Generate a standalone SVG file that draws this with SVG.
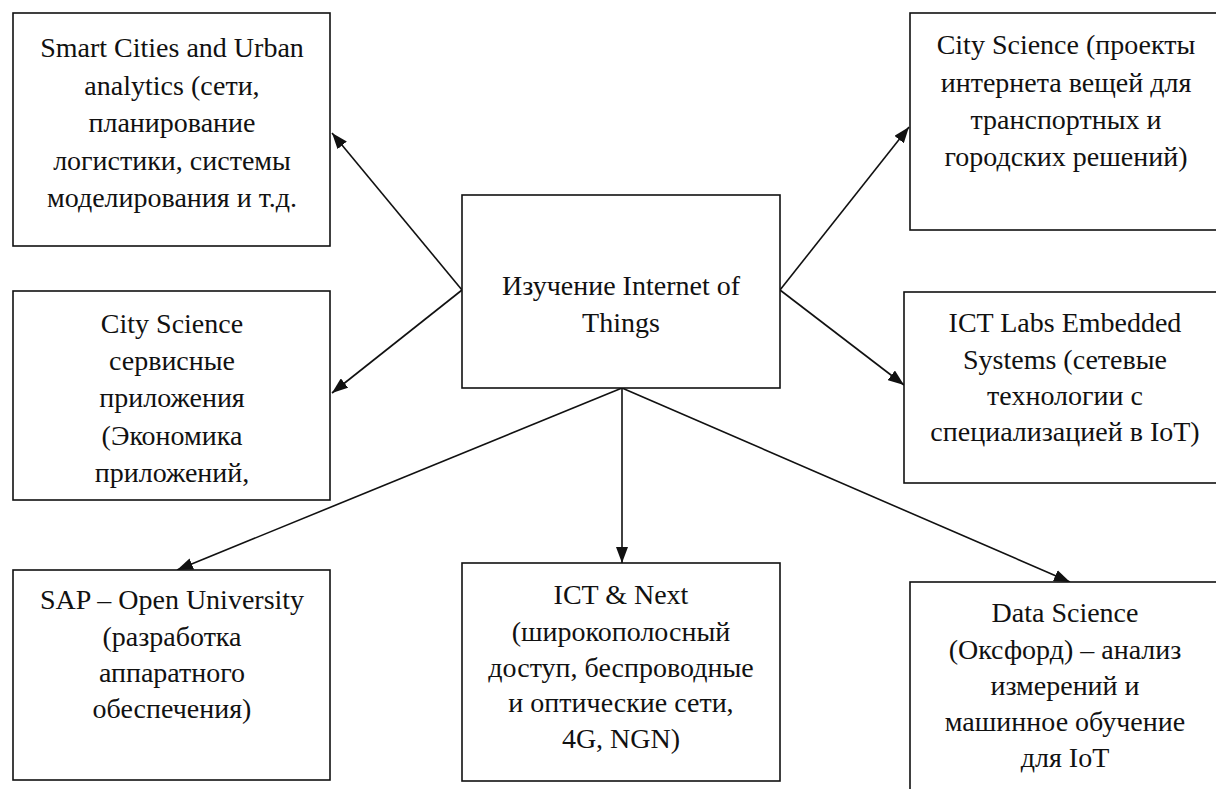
<svg xmlns="http://www.w3.org/2000/svg" width="1216" height="789" viewBox="0 0 1216 789">
<defs>
<style>
.box{fill:#fff;stroke:#111;stroke-width:1.6}
text{font-family:'Liberation Serif','Times New Roman',Times,'DejaVu Serif',serif;font-size:28px;fill:#111;text-anchor:middle}
.c{stroke:#111;stroke-width:1.6;fill:none;marker-end:url(#ah)}
</style>
<marker id="ah" markerUnits="userSpaceOnUse" markerWidth="16" markerHeight="12" viewBox="0 0 16 12" refX="16" refY="6" orient="auto">
<path d="M0,0 L16,6 L0,12 Z" fill="#111"/>
</marker>
</defs>
<rect width="1216" height="789" fill="#fff"/>
<g id="connectors">
<line class="c" x1="462" y1="290" x2="332" y2="133"/>
<line class="c" x1="462" y1="290" x2="332" y2="393"/>
<line class="c" x1="780" y1="290" x2="909" y2="127"/>
<line class="c" x1="780" y1="290" x2="904" y2="385"/>
<line class="c" x1="622" y1="388" x2="177" y2="570"/>
<line class="c" x1="622" y1="388" x2="622" y2="563"/>
<line class="c" x1="622" y1="388" x2="1070" y2="582"/>
</g>
<g id="smart-cities" font-family="Liberation Serif, serif">
<rect class="box" x="13" y="13" width="317" height="233"/>
<text x="172" y="57">Smart Cities and Urban</text>
<text x="172" y="94.5">analytics (сети,</text>
<text x="172" y="132">планирование</text>
<text x="172" y="169.5">логистики, системы</text>
<text x="172" y="207">моделирования и т.д.</text>
</g>
<g id="city-science-projects">
<rect class="box" x="910" y="13" width="320" height="217"/>
<text x="1066" y="54">City Science (проекты</text>
<text x="1066" y="92">интернета вещей для</text>
<text x="1066" y="129">транспортных и</text>
<text x="1066" y="166">городских решений)</text>
</g>
<g id="city-science-services">
<rect class="box" x="13" y="291" width="317" height="209"/>
<text x="172" y="333">City Science</text>
<text x="172" y="370">сервисные</text>
<text x="172" y="407">приложения</text>
<text x="172" y="445">(Экономика</text>
<text x="172" y="482">приложений,</text>
</g>
<g id="center">
<rect class="box" x="462" y="195" width="318" height="193"/>
<text x="621" y="295">Изучение Internet of</text>
<text x="621" y="332">Things</text>
</g>
<g id="ict-labs">
<rect class="box" x="904" y="292" width="330" height="191"/>
<text x="1065" y="332">ICT Labs Embedded</text>
<text x="1065" y="369">Systems (сетевые</text>
<text x="1065" y="405">технологии с</text>
<text x="1065" y="441">специализацией в IoT)</text>
</g>
<g id="sap">
<rect class="box" x="13" y="570" width="317" height="210"/>
<text x="172" y="609">SAP – Open University</text>
<text x="172" y="646">(разработка</text>
<text x="172" y="682">аппаратного</text>
<text x="172" y="718">обеспечения)</text>
</g>
<g id="ict-next">
<rect class="box" x="462" y="563" width="318" height="218"/>
<text x="621" y="604">ICT &amp; Next</text>
<text x="621" y="641">(широкополосный</text>
<text x="621" y="677">доступ, беспроводные</text>
<text x="621" y="712">и оптические сети,</text>
<text x="621" y="748">4G, NGN)</text>
</g>
<g id="data-science">
<rect class="box" x="910" y="582" width="320" height="230"/>
<text x="1065" y="622">Data Science</text>
<text x="1065" y="659">(Оксфорд) – анализ</text>
<text x="1065" y="695">измерений и</text>
<text x="1065" y="731">машинное обучение</text>
<text x="1065" y="767">для IoT</text>
</g>
</svg>
